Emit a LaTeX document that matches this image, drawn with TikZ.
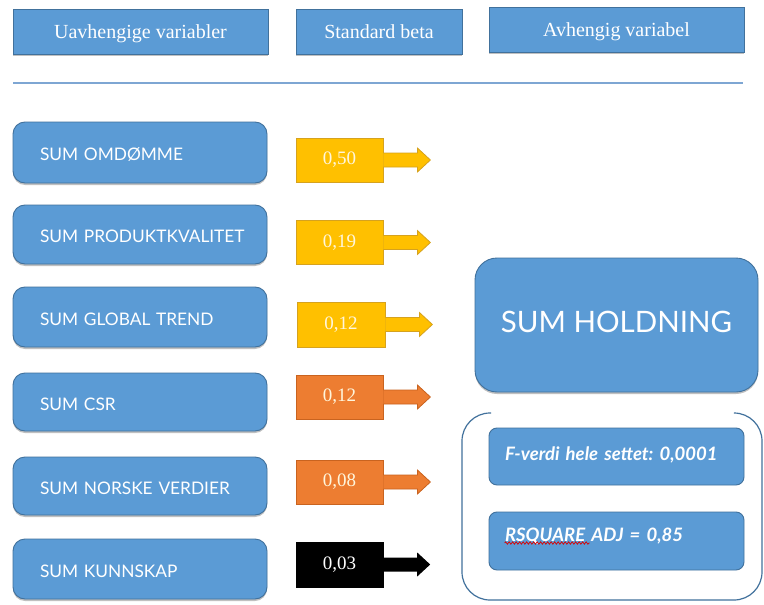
\documentclass[tikz,border=0pt]{standalone}
\usepackage{fontspec}
\setmainfont{Liberation Serif}
\newfontfamily\avfont{Lato}
\usetikzlibrary{shadows,decorations.pathmorphing,calc}
\definecolor{boxblue}{HTML}{5B9BD5}
\definecolor{boxedge}{HTML}{41719C}
\definecolor{ruleblue}{HTML}{7EA6D3}
\definecolor{betayellow}{HTML}{FFC000}
\definecolor{yellowedge}{HTML}{D6A21E}
\definecolor{betaorange}{HTML}{ED7D31}
\definecolor{orangeedge}{HTML}{C9631F}
\definecolor{paletext}{HTML}{FFF6DC}
\frenchspacing

\begin{document}
\begin{tikzpicture}[x=1pt,y=-1pt,
  softshadow/.style={drop shadow={shadow xshift=0pt,shadow yshift=-2pt,opacity=0.35,fill=black!70}},
  headbox/.style={draw=boxedge, fill=boxblue, line width=0.9pt, minimum height=45pt,
    inner sep=0pt, text depth=0pt, text=white, font=\fontsize{20}{20}\selectfont, softshadow},
  varbox/.style={draw=boxedge, fill=boxblue, line width=0.9pt, rounded corners=12pt,
    minimum width=254pt, text width=200pt, inner xsep=27pt, inner ysep=0pt, align=left,
    text height=16.5pt, text depth=0pt,
    text=white, font=\avfont\fontsize{17.3}{18}\selectfont, softshadow},
  betabox/.style={draw=#1edge, fill=beta#1, line width=0.8pt, minimum width=87pt,
    minimum height=44pt, inner sep=0pt, text=paletext, font=\fontsize{19}{19}\selectfont},
  betaarrow/.style={draw=#1edge, fill=beta#1, line width=0.8pt, line join=miter},
  blackbox/.style={draw=black, fill=black, minimum width=87pt, minimum height=44pt,
    inner sep=0pt, text=white, font=\fontsize{19}{19}\selectfont},
  statbox/.style={draw=boxedge, fill=boxblue, line width=0.9pt, rounded corners=8pt,
    minimum width=255pt, text width=223pt, inner xsep=16pt, inner ysep=0pt, align=left,
    text height=13.3pt, text=white, font=\avfont\bfseries\itshape\fontsize{18.5}{20}\selectfont},
  bracketline/.style={draw=boxedge, line width=1.2pt, rounded corners=28pt}
]
\useasboundingbox[fill=white] (0,0) rectangle (764,605);

% column headings
\node[headbox, minimum width=255pt] (h1) at (140.5,31.5) {Uavhengige variabler};
\node[headbox, minimum width=166pt] (h2) at (379,31.5) {Standard beta};
\node[headbox, minimum width=255pt] (h3) at (616.5,29.5) {Avhengig variabel};
\draw[ruleblue, line width=1.6pt] (13,83) -- (743,83);

% independent variables
\node[varbox, minimum height=61pt] (v1) at (140,152.5) {\mbox{SUM OMDØMME}};
\node[varbox, minimum height=59pt] (v2) at (140,234.5) {\mbox{SUM PRODUKTKVALITET}};
\node[varbox, minimum height=60pt] (v3) at (140,317) {\mbox{SUM GLOBAL TREND}};
\node[varbox, minimum height=58pt] (v4) at (140,402) {\mbox{SUM CSR}};
\node[varbox, minimum height=58pt] (v5) at (140,486) {\mbox{SUM NORSKE VERDIER}};
\node[varbox, minimum height=60pt] (v6) at (140,569) {\mbox{SUM KUNNSKAP}};

% standardised betas with their arrows
\node[betabox=yellow] (b1) at (339.5,160) {0,50};
\node[betabox=yellow] (b2) at (339.5,242.5) {0,19};
\node[betabox=yellow, minimum width=88pt, minimum height=45pt] (b3) at (341,324.5) {0,12};
\node[betabox=orange] (b4) at (339.5,397) {0,12};
\node[betabox=orange] (b5) at (339.5,482) {0,08};
\node[blackbox, minimum height=45pt] (b6) at (339.5,564.5) {0,03};

\foreach \b/\c in {b1/yellow,b2/yellow,b3/yellow,b4/orange,b5/orange}{
  \draw[betaarrow=\c] ($(\b.east)+(0,-7)$) -- ++(34,0) -- ++(0,-5) -- ++(13,12)
    coordinate (\b tip) -- ++(-13,12) -- ++(0,-5) -- ++(-34,0);
}
\fill[black] ($(b6.east)+(-1,-7)$) -- ++(35,0) -- ++(0,-5) -- ++(13,12)
  coordinate (b6tip) -- ++(-13,12) -- ++(0,-5) -- ++(-35,0) -- cycle;

% dependent variable
\node[draw=boxedge, fill=boxblue, line width=0.9pt, rounded corners=22pt,
  minimum width=283pt, minimum height=134pt, inner sep=0pt, text=white,
  text height=21.2pt, text depth=7pt,
  font=\avfont\fontsize{29.5}{30}\selectfont, softshadow] (dep) at (616.5,325)
  {SUM HOLDNING};

% model statistics
\draw[bracketline] (491,413) -- (462,413) -- (462,600) -- (762,600) -- (762,413) -- (735,413);
\node[statbox, minimum height=57pt, text depth=6pt] (s1) at (616.5,456.5) {\mbox{F-verdi hele settet: 0,0001}};
\node[statbox, minimum height=58pt, text depth=13pt] (s2) at (616.5,541) {\mbox{RSQUARE ADJ = 0,85}};
\draw[red!85!black, line width=0.7pt, decorate,
  decoration={snake, amplitude=1.2pt, segment length=3.5pt}]
  ($(s2.west)+(16,2)$) -- ++(85,0);
\end{tikzpicture}
\end{document}
